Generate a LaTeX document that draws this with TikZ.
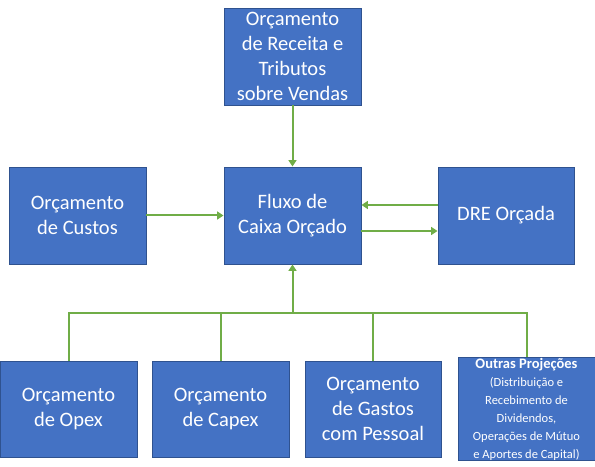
\documentclass[tikz,border=0pt]{standalone}
\usepackage{fontspec}
\setmainfont{Carlito}
\usetikzlibrary{arrows.meta}
\definecolor{boxfill}{HTML}{4472C4}
\definecolor{boxline}{HTML}{2F528F}
\definecolor{conn}{HTML}{70AD47}
\tikzset{
  box/.style={draw=boxline, fill=boxfill, line width=0.9bp, text=white, align=center,
    inner sep=0pt, minimum height=97bp, minimum width=137bp,
    font=\fontsize{20.5bp}{25bp}\selectfont},
  arr/.style={draw=conn, line width=2bp, -{Triangle[width=8bp,length=6.5bp]}},
  wire/.style={draw=conn, line width=2bp},
}
\begin{document}
\begin{tikzpicture}[x=1bp,y=-1bp]
\useasboundingbox (0,0) rectangle (595,467);
\node[box] (top) at (292.5,56.5) {Orçamento\\de Receita e\\Tributos\\sobre Vendas};
\node[box] (cust) at (77.5,215.5) {Orçamento\\de Custos};
\node[box] (fc) at (292.5,215.5) {Fluxo de\\Caixa Orçado};
\node[box, minimum width=136bp] (dre) at (506,215.5) {DRE Orçada};
\node[box, minimum height=96bp] (opex) at (68.5,409) {Orçamento\\de Opex};
\node[box, minimum height=96bp] (capex) at (220.5,409) {Orçamento\\de Capex};
\node[box, minimum height=96bp, minimum width=136bp] (pess) at (373,409) {Orçamento\\de Gastos\\com Pessoal};
\node[box, minimum height=96bp, font=\fontsize{12.5bp}{18bp}\selectfont] (outr) at (526.5,409) {{\fontsize{14.5bp}{18bp}\selectfont\bfseries Outras Projeções}\\
  (Distribuição e\\
  Recebimento  de\\
  Dividendos,\\
  Operações de Mútuo\\
  e Aportes de Capital)};
\coordinate (bus) at (292.5,313);
\draw[arr] (top.south) -- (fc.north);
\draw[arr] (cust.east) -- (fc.west);
\draw[arr] ([yshift=10.5bp]dre.west) -- ([yshift=10.5bp]fc.east);
\draw[arr] ([yshift=-15.5bp]fc.east) -- ([yshift=-15.5bp]dre.west);
\draw[arr] (bus) -- (fc.south);
\draw[wire] (opex.north) |- (bus);
\draw[wire] (capex.north) |- (bus);
\draw[wire] (pess.north) |- (bus);
\draw[wire] (outr.north) |- (bus);
\end{tikzpicture}
\end{document}
